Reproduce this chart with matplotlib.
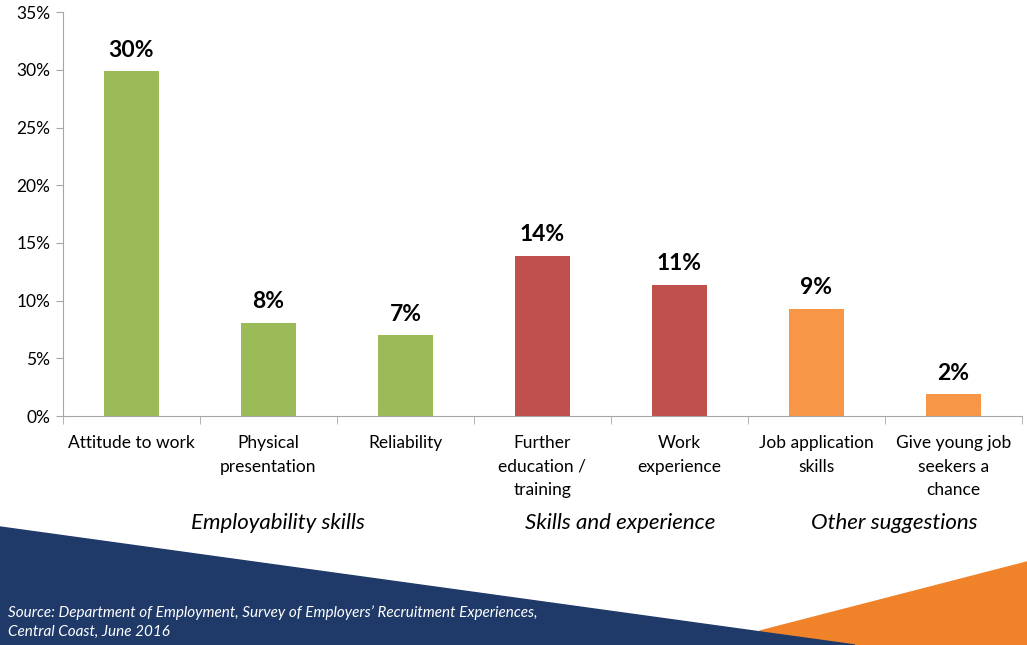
import numpy as np
import matplotlib.pyplot as plt
from matplotlib.patches import Polygon
from matplotlib.transforms import blended_transform_factory

# survey responses (share of employers)
categories = ['Attitude to work', 'Physical\npresentation', 'Reliability',
              'Further\neducation /\ntraining', 'Work\nexperience',
              'Job application\nskills', 'Give young job\nseekers a\nchance']
values = [29.9, 8.1, 7.0, 13.9, 11.4, 9.3, 1.9]
groups = ['Employability skills', 'Skills and experience', 'Other suggestions']
group_index = [0, 0, 0, 1, 1, 2, 2]
group_colors = ['#9BBB59', '#C0504D', '#F79646']

plt.rcParams['font.family'] = ['Lato', 'DejaVu Sans']

fig = plt.figure(figsize=(10.27, 6.45), dpi=100)
ax = fig.add_axes([0.0613, 0.355, 0.9337, 0.626])

x = np.arange(len(categories))
colors = [group_colors[g] for g in group_index]
bars = ax.bar(x, values, width=0.4, color=colors)

for xi, v in zip(x, values):
    ax.text(xi, v + 0.9, f'{v:.0f}%', ha='center', va='bottom',
            fontsize=16.5, fontweight='bold', color='black')

ax.set_xlim(-0.5, len(categories) - 0.5)
ax.set_ylim(0, 35)
ax.set_yticks(np.arange(0, 36, 5))
ax.set_yticklabels([f'{t}%' for t in range(0, 36, 5)], fontsize=12.5)

# category names under the bars, ticks between categories
ax.set_xticks(x)
ax.set_xticklabels(categories, fontsize=12.5, linespacing=1.55, va='top')
ax.tick_params(axis='x', length=0, pad=14)
ax.set_xticks(np.arange(-0.5, len(categories), 1), minor=True)
ax.tick_params(axis='x', which='minor', length=6, color='#A6A6A6')
ax.tick_params(axis='y', length=5, color='#A6A6A6', pad=4)

for side in ['top', 'right']:
    ax.spines[side].set_visible(False)
for side in ['left', 'bottom']:
    ax.spines[side].set_color('#A6A6A6')

# group headings below the category names
trans = blended_transform_factory(ax.transData, ax.transAxes)
for gi, name in enumerate(groups):
    members = [i for i, g in enumerate(group_index) if g == gi]
    ax.text(np.mean(members) + 0.07, -0.265, name, transform=trans,
            ha='center', va='center', fontsize=16, style='italic')

# footer banner
W, H = 1027, 645
orange = Polygon([(760 / W, 1 - 631 / H), (1, 1 - 562 / H), (1, 0), (760 / W, 0)],
                 closed=True, transform=fig.transFigure, color='#F0832A', zorder=0)
navy = Polygon([(0, 1 - 527 / H), (855 / W, 0), (0, 0)], closed=True,
               transform=fig.transFigure, color='#1F3A68', zorder=1)
fig.patches.extend([orange, navy])

fig.text(8 / W, 1 - 613 / H,
         'Source: Department of Employment, Survey of Employers\u2019 Recruitment Experiences,',
         fontsize=11, style='italic', color='white', va='center')
fig.text(8 / W, 1 - 632 / H, 'Central Coast, June 2016',
         fontsize=11, style='italic', color='white', va='center')

fig.savefig('out.png', dpi=100)
